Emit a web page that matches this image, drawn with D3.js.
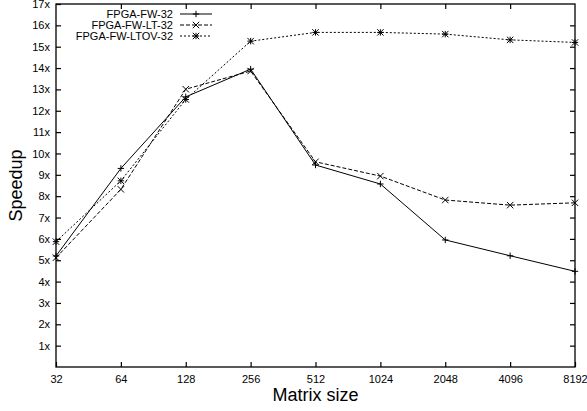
<!DOCTYPE html>
<html><head><meta charset="utf-8">
<script src="https://cdn.jsdelivr.net/npm/d3@7"></script>
<style>body{margin:0;background:#fff}svg{display:block}text{font-family:"Liberation Sans",Arial,sans-serif;fill:#000}</style>
</head><body>
<svg id="c" width="587" height="411"></svg>
<script>
const sizes = [32, 64, 128, 256, 512, 1024, 2048, 4096, 8192];
const fw32 = [5.2, 9.3, 12.65, 13.95, 9.46, 8.57, 5.95, 5.21, 4.48];
const fwLT32 = [5.12, 8.32, 13.01, 13.86, 9.61, 8.94, 7.82, 7.58, 7.69];
const fwLTOV32 = [5.87, 8.72, 12.53, 15.26, 15.67, 15.67, 15.59, 15.32, 15.2];
const seriesNames = ["FPGA-FW-32", "FPGA-FW-LT-32", "FPGA-FW-LTOV-32"];
const yTicks = d3.range(1, 18);

const series = [
  {name: seriesNames[0], vals: fw32, dash: null, marker: "plus"},
  {name: seriesNames[1], vals: fwLT32, dash: "4,2", marker: "cross"},
  {name: seriesNames[2], vals: fwLTOV32, dash: "2,2", marker: "star"}
];

const svg = d3.select("#c");
const L = 56, R = 575, T = 4, B = 367;
const x = d3.scaleLog().base(2).domain([32, 8192]).range([L, R]);
const y = d3.scaleLinear().domain([0, 17]).range([B, T]);

// frame
svg.append("rect").attr("x", L).attr("y", T).attr("width", R - L).attr("height", B - T)
  .attr("fill", "none").attr("stroke", "#000").attr("stroke-width", 1.3);

// axes
const tl = 5;
const yAxisL = svg.append("g").attr("transform", `translate(${L},0)`)
  .call(d3.axisLeft(y).tickValues(yTicks).tickFormat(d => d + "x").tickSizeInner(-tl).tickSizeOuter(0).tickPadding(7));
const yAxisR = svg.append("g").attr("transform", `translate(${R},0)`)
  .call(d3.axisRight(y).tickValues(yTicks.slice(0, -1)).tickFormat("").tickSizeInner(-tl).tickSizeOuter(0));
const xAxisB = svg.append("g").attr("transform", `translate(0,${B})`)
  .call(d3.axisBottom(x).tickValues(sizes).tickFormat(d3.format("d")).tickSizeInner(-tl).tickSizeOuter(0).tickPadding(8));
const xAxisT = svg.append("g").attr("transform", `translate(0,${T})`)
  .call(d3.axisTop(x).tickValues(sizes.slice(1, -1)).tickFormat("").tickSizeInner(-tl).tickSizeOuter(0));
[yAxisL, yAxisR, xAxisB, xAxisT].forEach(g => {
  g.select(".domain").remove();
  g.selectAll(".tick line").attr("stroke", "#000").attr("stroke-width", 1.2);
  g.selectAll("text").attr("font-size", 11).attr("fill", "#000").style("font-family", "Liberation Sans, Arial, sans-serif");
});
yAxisL.selectAll("text").attr("x", -6);

// axis titles
svg.append("text").attr("x", (L + R) / 2).attr("y", 401).attr("text-anchor", "middle")
  .attr("font-size", 18).text("Matrix size");
svg.append("text").attr("transform", `translate(22,${(T + B) / 2}) rotate(-90)`).attr("text-anchor", "middle")
  .attr("font-size", 18).text("Speedup");

function marker(g, type, cx, cy) {
  const s = 3.2;
  const p = d3.path();
  if (type === "plus" || type === "star") {
    p.moveTo(cx - s, cy); p.lineTo(cx + s, cy);
    p.moveTo(cx, cy - s); p.lineTo(cx, cy + s);
  }
  if (type === "cross" || type === "star") {
    p.moveTo(cx - s, cy - s); p.lineTo(cx + s, cy + s);
    p.moveTo(cx - s, cy + s); p.lineTo(cx + s, cy - s);
  }
  g.append("path").attr("d", p.toString()).attr("stroke", "#000").attr("stroke-width", 1).attr("fill", "none");
}

const line = d3.line().x((d, i) => x(sizes[i])).y(d => y(d));
series.forEach(s => {
  const g = svg.append("g");
  g.append("path").attr("d", line(s.vals)).attr("fill", "none").attr("stroke", "#000")
    .attr("stroke-width", 1).attr("stroke-dasharray", s.dash);
  s.vals.forEach((v, i) => marker(g, s.marker, x(sizes[i]), y(v)));
});

// legend
const legY = [14, 25, 36];
series.forEach((s, i) => {
  const g = svg.append("g");
  g.append("text").attr("x", 173).attr("y", legY[i]).attr("dy", "0.35em").attr("text-anchor", "end")
    .attr("font-size", 11).text(s.name);
  g.append("line").attr("x1", 180).attr("x2", 212).attr("y1", legY[i]).attr("y2", legY[i])
    .attr("stroke", "#000").attr("stroke-width", 1).attr("stroke-dasharray", s.dash);
  marker(g, s.marker, 196, legY[i]);
});
</script>
</body></html>
